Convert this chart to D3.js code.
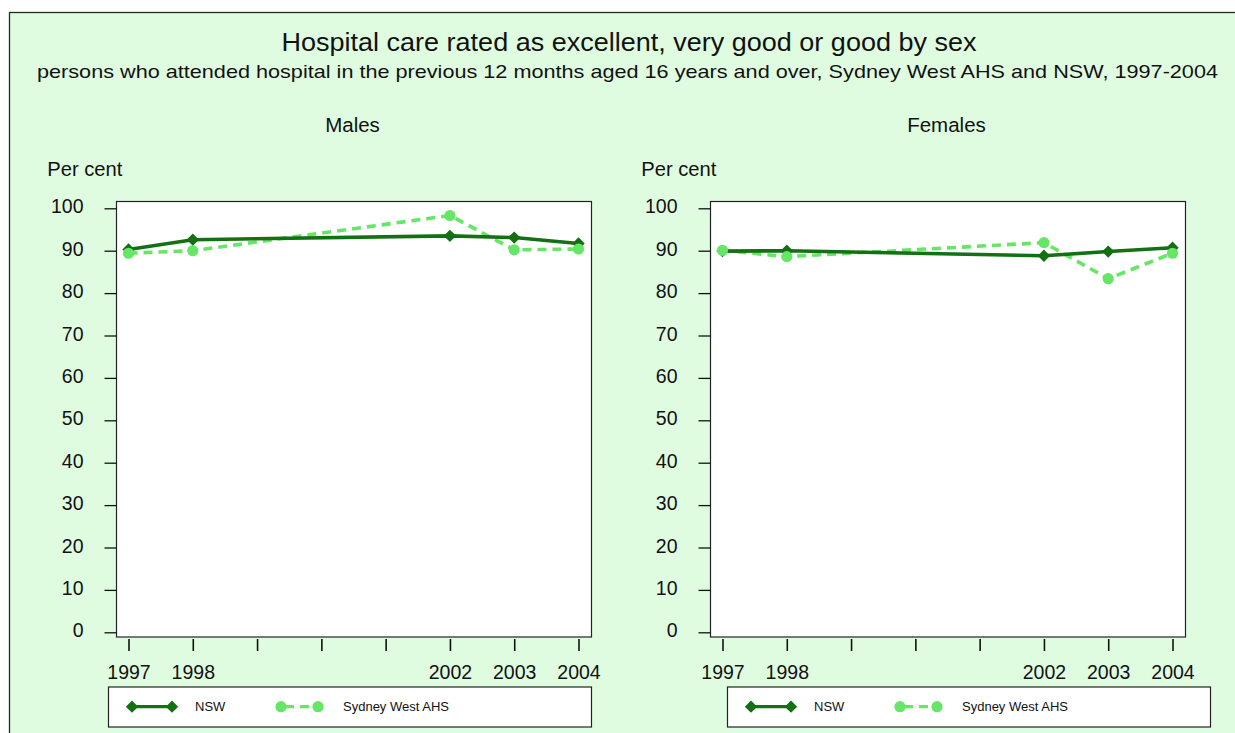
<!DOCTYPE html>
<html>
<head>
<meta charset="utf-8">
<script src="https://cdn.jsdelivr.net/npm/d3@7"></script>
<style>
  html, body { margin: 0; padding: 0; background: #ffffff; }
  svg { display: block; font-family: "Liberation Sans", Arial, sans-serif; }
</style>
</head>
<body>
<svg id="chart" width="1235" height="733"></svg>
<script>
// Survey years and the labelled subset on the x axis
const years = [1997, 1998, 2002, 2003, 2004];
const yearTicks = [1997, 1998, 1999, 2000, 2001, 2002, 2003, 2004];
const yearLabels = [1997, 1998, 2002, 2003, 2004];
const percentTicks = [0, 10, 20, 30, 40, 50, 60, 70, 80, 90, 100];

// Per cent rating hospital care excellent, very good or good
const malesNSW = [90.3, 92.6, 93.5, 93.1, 91.7];
const malesSWAHS = [89.4, 90.0, 98.3, 90.2, 90.4];
const femalesNSW = [89.9, 90.0, 88.8, 89.8, 90.7];
const femalesSWAHS = [90.1, 88.6, 91.9, 83.4, 89.4];

const seriesNames = ["NSW", "Sydney West AHS"];
const panelTitles = ["Males", "Females"];

const colNSW = "#137013";
const colSW = "#66e666";
const bg = "#e0fce0";
const fontFam = "Liberation Sans, Arial, sans-serif";

const svg = d3.select("#chart");

// Outer frame
svg.append("rect").attr("x", 9.5).attr("y", 12.5).attr("width", 1240).attr("height", 740)
  .attr("fill", bg).attr("stroke", "#1e2e1e").attr("stroke-width", 1.3);

svg.append("text").attr("x", 629).attr("y", 51).attr("text-anchor", "middle")
  .attr("font-size", 25).attr("fill", "#111")
  .attr("textLength", 695).attr("lengthAdjust", "spacingAndGlyphs")
  .text("Hospital care rated as excellent, very good or good by sex");
svg.append("text").attr("x", 627.5).attr("y", 77.5).attr("text-anchor", "middle")
  .attr("font-size", 17.8).attr("fill", "#111")
  .attr("textLength", 1181).attr("lengthAdjust", "spacingAndGlyphs")
  .text("persons who attended hospital in the previous 12 months aged 16 years and over, Sydney West AHS and NSW, 1997-2004");

const panels = [
  { left: 116.5, nsw: malesNSW, sw: malesSWAHS, legendX: 108 },
  { left: 710.5, nsw: femalesNSW, sw: femalesSWAHS, legendX: 727 }
];

const plotW = 475, plotTop = 201.5, plotBottom = 637;

panels.forEach((p, i) => {
  const g = svg.append("g");
  const x = d3.scaleLinear().domain([1997, 2004]).range([p.left + 12, p.left + 462]);
  const y = d3.scaleLinear().domain([0, 100]).range([632.3, 208.3]);

  g.append("text").attr("x", p.left + 236).attr("y", 132.3).attr("text-anchor", "middle")
    .attr("font-size", 20.5).attr("fill", "#111").text(panelTitles[i]);
  g.append("text").attr("x", p.left - 69.3).attr("y", 176)
    .attr("font-size", 20.2).attr("fill", "#111").text("Per cent");

  // Plot area
  g.append("rect").attr("x", p.left).attr("y", plotTop).attr("width", plotW).attr("height", plotBottom - plotTop)
    .attr("fill", "#ffffff").attr("stroke", "#222").attr("stroke-width", 1.2);

  // Y axis: ticks sit to the left of the plot box
  const yAxis = d3.axisLeft(y).tickValues(percentTicks).tickSize(12).tickPadding(21);
  const ya = g.append("g").attr("transform", `translate(${p.left},0)`).call(yAxis);
  ya.select(".domain").remove();
  ya.selectAll("line").attr("stroke", "#111").attr("stroke-width", 1.3);
  ya.selectAll("text").attr("font-size", 19.5).attr("fill", "#111")
    .attr("font-family", fontFam).attr("dy", "0.24em");

  // X axis: ticks below the plot box
  const xAxis = d3.axisBottom(x).tickValues(yearTicks).tickSize(12).tickPadding(14)
    .tickFormat(d => yearLabels.includes(d) ? String(d) : "");
  const xa = g.append("g").attr("transform", `translate(0,${plotBottom + 2})`).call(xAxis);
  xa.select(".domain").remove();
  xa.selectAll("line").attr("stroke", "#111").attr("stroke-width", 1.6);
  xa.selectAll("text").attr("font-size", 19.5).attr("fill", "#111")
    .attr("font-family", fontFam);

  const line = d3.line().x((d, j) => x(years[j])).y(d => y(d));

  // Sydney West AHS (dashed, circles)
  g.append("path").datum(p.sw).attr("d", line).attr("fill", "none")
    .attr("stroke", colSW).attr("stroke-width", 3.6).attr("stroke-dasharray", "9,6");
  // NSW (solid, diamonds)
  g.append("path").datum(p.nsw).attr("d", line).attr("fill", "none")
    .attr("stroke", colNSW).attr("stroke-width", 3.6);

  const diamondPath = d3.symbol().type(d3.symbolSquare).size(76)();
  g.selectAll(".nswpt").data(p.nsw).enter().append("path")
    .attr("d", diamondPath)
    .attr("transform", (d, j) => `translate(${x(years[j])},${y(d)}) rotate(45)`)
    .attr("fill", colNSW);
  g.selectAll(".swpt").data(p.sw).enter().append("circle")
    .attr("cx", (d, j) => x(years[j])).attr("cy", d => y(d)).attr("r", 5.6)
    .attr("fill", colSW);

  // Legend
  const lg = g.append("g").attr("transform", `translate(${p.legendX},0)`);
  lg.append("rect").attr("x", 0.5).attr("y", 687).attr("width", 483).attr("height", 40)
    .attr("fill", "#ffffff").attr("stroke", "#222").attr("stroke-width", 1.2);
  const ly = 706.7;
  const nswX0 = 24, swX0 = 173;
  lg.append("line").attr("x1", nswX0).attr("x2", nswX0 + 40).attr("y1", ly).attr("y2", ly)
    .attr("stroke", colNSW).attr("stroke-width", 3.2);
  [nswX0, nswX0 + 40].forEach(cx => {
    lg.append("path").attr("d", diamondPath)
      .attr("transform", `translate(${cx},${ly}) rotate(45)`).attr("fill", colNSW);
  });
  lg.append("text").attr("x", nswX0 + 63).attr("y", 710.5).attr("font-size", 13)
    .attr("fill", "#111").text(seriesNames[0]);
  lg.append("line").attr("x1", swX0).attr("x2", swX0 + 37).attr("y1", ly).attr("y2", ly)
    .attr("stroke", colSW).attr("stroke-width", 3.2).attr("stroke-dasharray", "9,6").attr("stroke-dashoffset", -4);
  [swX0, swX0 + 37].forEach(cx => {
    lg.append("circle").attr("cx", cx).attr("cy", ly).attr("r", 5.6).attr("fill", colSW);
  });
  lg.append("text").attr("x", swX0 + 62).attr("y", 710.5).attr("font-size", 13)
    .attr("fill", "#111").text(seriesNames[1]);
});
</script>
</body>
</html>
